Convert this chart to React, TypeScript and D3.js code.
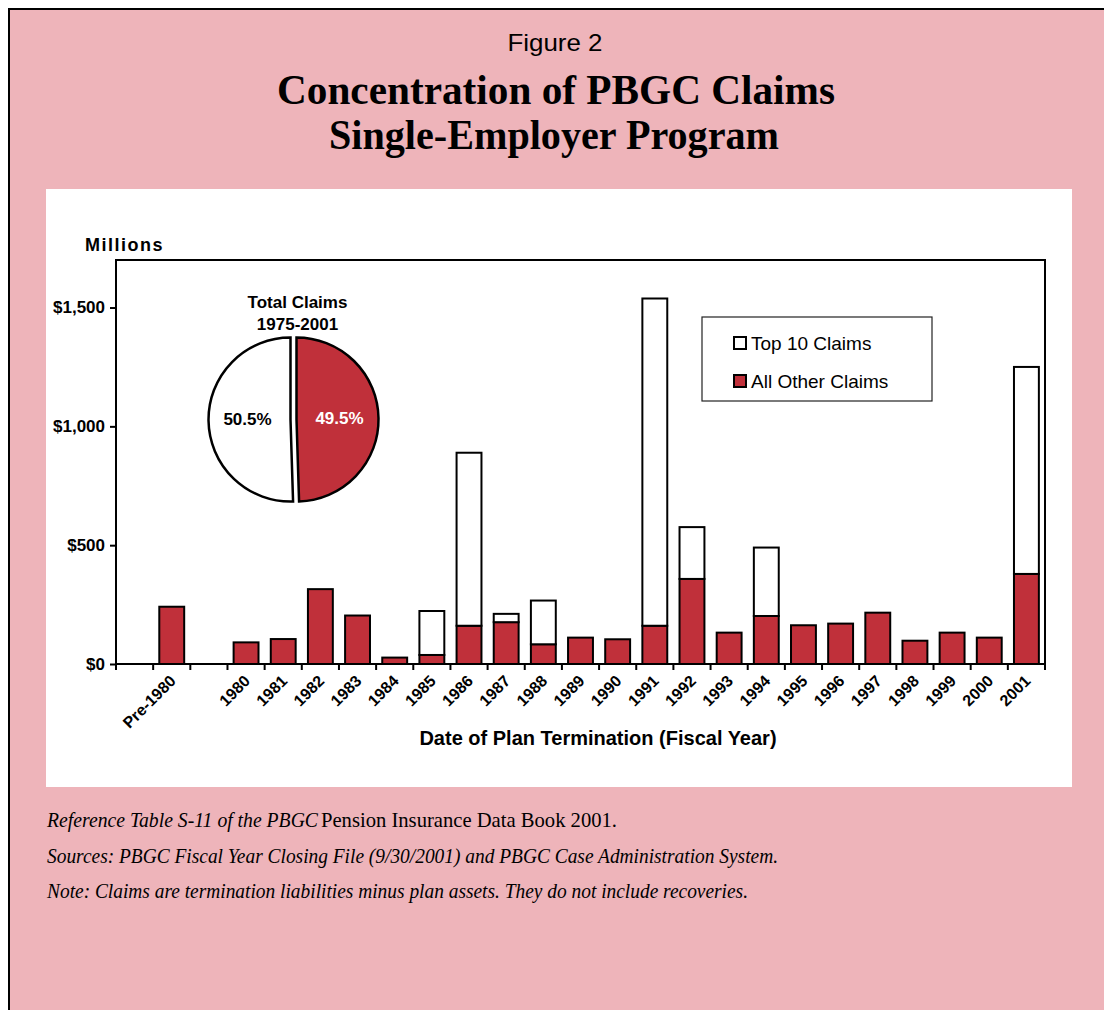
import React, { useEffect, useRef } from "react";
import * as d3 from "d3";

// slots along the x axis (blank slots keep the gaps around Pre-1980)
const categories = [
  "", "Pre-1980", "", "1980", "1981", "1982", "1983", "1984", "1985", "1986",
  "1987", "1988", "1989", "1990", "1991", "1992", "1993", "1994", "1995",
  "1996", "1997", "1998", "1999", "2000", "2001",
];
// $ millions
const otherClaims = [
  0, 241, 0, 91, 105, 315, 204, 27, 38, 161, 176, 83, 111, 104, 161, 358, 132,
  202, 163, 170, 216, 98, 132, 111, 379,
];
const top10Claims = [
  0, 0, 0, 0, 0, 0, 0, 0, 185, 728, 35, 184, 0, 0, 1377, 218, 0, 288, 0, 0, 0,
  0, 0, 0, 871,
];
const yTicks = [0, 500, 1000, 1500];

const pieNames = ["All Other Claims", "Top 10 Claims"];
const pieShares = [49.5, 50.5];

const legendLabels = ["Top 10 Claims", "All Other Claims"];

const PINK = "#eeb4ba";
const RED = "#c0303a";
const SANS = "'Liberation Sans', Arial, Helvetica, sans-serif";
const SERIF = "'Liberation Serif', 'Times New Roman', serif";

export default function App() {
  const ref = useRef<SVGGElement>(null);

  useEffect(() => {
    const g = d3.select(ref.current);
    g.selectAll("*").remove();

    const plot = { left: 116, top: 260, right: 1045, bottom: 664 };

    const x = d3
      .scaleBand<number>()
      .domain(d3.range(categories.length))
      .range([plot.left, plot.right])
      .paddingInner(0.33)
      .paddingOuter(0.165);
    const y = d3.scaleLinear().domain([0, 1700]).range([plot.bottom, plot.top]);

    const rows = categories.map((c, i) => ({
      other: otherClaims[i],
      top10: top10Claims[i],
    }));
    const series = d3.stack<any>().keys(["other", "top10"])(rows);
    const fills = [RED, "#ffffff"];

    series.forEach((s, si) => {
      g.append("g")
        .selectAll("rect")
        .data(s.map((d, i) => ({ d, i })).filter((o) => o.d[1] - o.d[0] > 0))
        .join("rect")
        .attr("x", (o) => x(o.i)!)
        .attr("width", x.bandwidth())
        .attr("y", (o) => y(o.d[1]))
        .attr("height", (o) => y(o.d[0]) - y(o.d[1]))
        .attr("fill", fills[si])
        .attr("stroke", "#000")
        .attr("stroke-width", 2);
    });

    // plot frame
    g.append("rect")
      .attr("x", plot.left)
      .attr("y", plot.top)
      .attr("width", plot.right - plot.left)
      .attr("height", plot.bottom - plot.top)
      .attr("fill", "none")
      .attr("stroke", "#000")
      .attr("stroke-width", 2);

    // y axis
    const yAxis = g
      .append("g")
      .attr("transform", `translate(${plot.left},0)`)
      .call(
        d3
          .axisLeft(y)
          .tickValues(yTicks)
          .tickSize(6)
          .tickPadding(5)
          .tickFormat((d) => "$" + d3.format(",")(d as number))
      );
    yAxis.select(".domain").remove();
    yAxis.selectAll("line").attr("stroke", "#000").attr("stroke-width", 2);
    yAxis
      .selectAll("text")
      .attr("font-family", SANS)
      .attr("font-weight", "bold")
      .attr("font-size", 17)
      .attr("fill", "#000");

    // x ticks at slot boundaries
    const half = (x.step() * x.paddingInner()) / 2;
    const bounds = categories.map((c, i) => x(i)! - half);
    bounds.push(x(categories.length - 1)! + x.bandwidth() + half);
    g.append("g")
      .selectAll("line")
      .data(bounds)
      .join("line")
      .attr("x1", (d) => d)
      .attr("x2", (d) => d)
      .attr("y1", plot.bottom)
      .attr("y2", plot.bottom + 6)
      .attr("stroke", "#000")
      .attr("stroke-width", 2);

    g.append("g")
      .selectAll("text")
      .data(categories.map((c, i) => ({ c, i })).filter((o) => o.c))
      .join("text")
      .attr(
        "transform",
        (o) => `translate(${x(o.i)! + x.bandwidth() / 2 + 5},${plot.bottom + 18}) rotate(-45)`
      )
      .attr("text-anchor", "end")
      .attr("font-family", SANS)
      .attr("font-weight", "bold")
      .attr("font-size", 16)
      .text((o) => o.c);

    // pie inset
    const cx = 293.5;
    const cy = 419.5;
    const r = 82;
    const arcs = d3
      .pie<number>()
      .sort(null)
      .startAngle(0)
      .endAngle(2 * Math.PI)(pieShares);
    const arc = d3.arc<any>().innerRadius(0).outerRadius(r);
    const labelArc = d3.arc<any>().innerRadius(43).outerRadius(43);
    const pieG = g.append("g").attr("transform", `translate(${cx},${cy})`);
    arcs.forEach((a, i) => {
      const mid = (a.startAngle + a.endAngle) / 2;
      const dx = 3 * Math.sin(mid);
      const dy = -3 * Math.cos(mid);
      const sg = pieG.append("g").attr("transform", `translate(${dx},${dy})`);
      sg.append("path")
        .attr("d", arc(a)!)
        .attr("fill", i === 0 ? RED : "#fff")
        .attr("stroke", "#000")
        .attr("stroke-width", 2.5)
        .attr("stroke-linejoin", "miter");
      const [lx, ly] = labelArc.centroid(a);
      sg.append("text")
        .attr("x", lx)
        .attr("y", ly)
        .attr("dy", "0.3em")
        .attr("text-anchor", "middle")
        .attr("font-family", SANS)
        .attr("font-weight", "bold")
        .attr("font-size", 17)
        .attr("fill", i === 0 ? "#fff" : "#000")
        .attr("data-name", pieNames[i])
        .text(d3.format(".1f")(a.data) + "%");
    });
  }, []);

  return (
    <svg
      width={1104}
      height={1010}
      style={{ position: "absolute", left: 0, top: 0, display: "block" }}
    >
      <rect x={0} y={0} width={1104} height={1010} fill="#fff" />
      <rect x={9} y={9} width={1110} height={1020} fill={PINK} stroke="#000" strokeWidth={2} />

      <text x={555} y={51} textAnchor="middle" fontFamily={SANS} fontSize={24} textLength={95} lengthAdjust="spacingAndGlyphs">
        Figure 2
      </text>
      <text x={556} y={104} textAnchor="middle" fontFamily={SERIF} fontWeight="bold" fontSize={43} textLength={558} lengthAdjust="spacingAndGlyphs">
        Concentration of PBGC Claims
      </text>
      <text x={554} y={149} textAnchor="middle" fontFamily={SERIF} fontWeight="bold" fontSize={43} textLength={450} lengthAdjust="spacingAndGlyphs">
        Single-Employer Program
      </text>

      <rect x={46} y={189} width={1026} height={598} fill="#fff" />

      <text x={85} y={251} fontFamily={SANS} fontWeight="bold" fontSize={18} letterSpacing={1.5}>
        Millions
      </text>
      <text x={297.5} y={308} textAnchor="middle" fontFamily={SANS} fontWeight="bold" fontSize={17}>
        Total Claims
      </text>
      <text x={297.5} y={330} textAnchor="middle" fontFamily={SANS} fontWeight="bold" fontSize={17}>
        1975-2001
      </text>

      {/* legend */}
      <rect x={702} y={317} width={230} height={84} fill="#fff" stroke="#222" strokeWidth={1.2} />
      <rect x={734} y={337} width={12} height={12} fill="#fff" stroke="#000" strokeWidth={2} />
      <text x={751} y={350} fontFamily={SANS} fontSize={19}>{legendLabels[0]}</text>
      <rect x={734} y={375} width={12} height={12} fill={RED} stroke="#000" strokeWidth={2} />
      <text x={751} y={388} fontFamily={SANS} fontSize={19}>{legendLabels[1]}</text>

      <g ref={ref} />

      <text x={598} y={745} textAnchor="middle" fontFamily={SANS} fontWeight="bold" fontSize={20}>
        Date of Plan Termination (Fiscal Year)
      </text>

      {/* notes */}
      <text x={47} y={827} fontFamily={SERIF} fontStyle="italic" fontSize={22} textLength={271} lengthAdjust="spacingAndGlyphs">
        Reference Table S-11 of the PBGC
      </text>
      <text x={321} y={827} fontFamily={SERIF} fontSize={22} textLength={296} lengthAdjust="spacingAndGlyphs">
        Pension Insurance Data Book 2001.
      </text>
      <text x={47} y={863} fontFamily={SERIF} fontStyle="italic" fontSize={22} textLength={731} lengthAdjust="spacingAndGlyphs">
        Sources: PBGC Fiscal Year Closing File (9/30/2001) and PBGC Case Administration System.
      </text>
      <text x={47} y={898} fontFamily={SERIF} fontStyle="italic" fontSize={22} textLength={701} lengthAdjust="spacingAndGlyphs">
        Note: Claims are termination liabilities minus plan assets.  They do not include recoveries.
      </text>
    </svg>
  );
}
